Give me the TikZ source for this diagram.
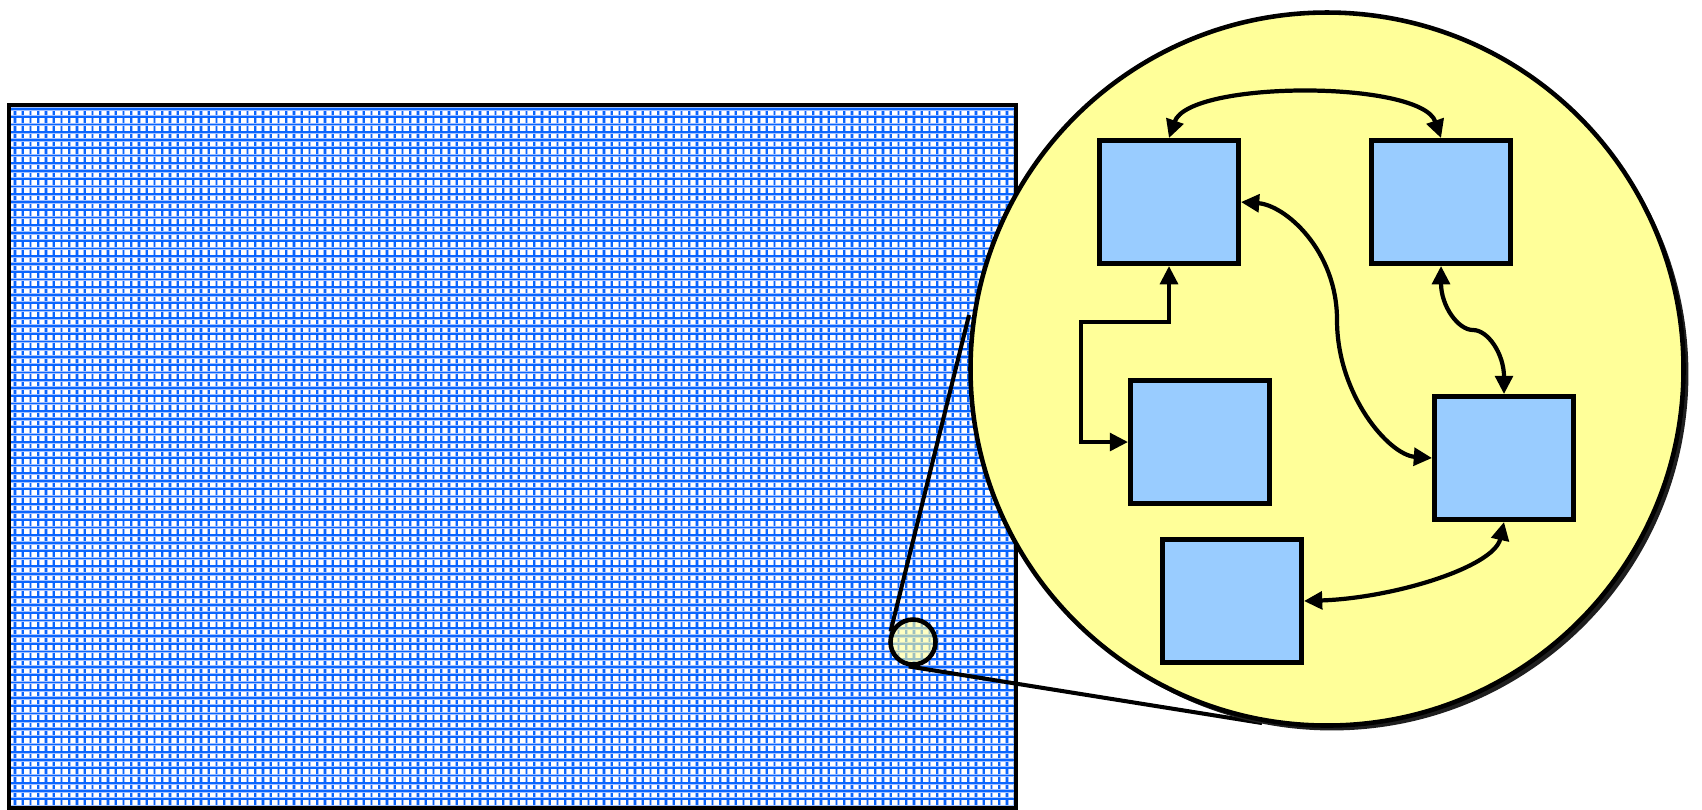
\documentclass[tikz,border=0pt]{standalone}
\usetikzlibrary{arrows.meta,shadows}
\definecolor{lensyellow}{HTML}{FFFF99}
\definecolor{boxblue}{HTML}{99CCFF}
\definecolor{gridblue}{HTML}{0A66FF}
\definecolor{gridhalo}{HTML}{A0C0FF}

\begin{document}
\begin{tikzpicture}[x = 0.1mm, y = -0.1mm,
  box/.style = {draw = black, line width = 1.4pt, fill = boxblue, minimum width = 13.9mm, minimum height = 12.3mm, inner sep = 0pt},
  link/.style = {line width = 1.2pt, {Triangle[length=5.2pt,width=5pt]}-{Triangle[length=5.2pt,width=5pt]}},
  lens/.style = {circle, draw = black, line width = 1.3pt, fill = lensyellow, inner sep = 0pt}]
\useasboundingbox (0,0) rectangle (1702,809);
\clip (0,0) rectangle (1702,809);
% the grid
\begin{scope}
\clip (9,105) rectangle (1016,808);
\foreach \i in {0,...,130} {
  \draw[color = gridhalo, line width = .95pt] (15+\i*7.75,105) -- (15+\i*7.75,809);
  \draw[color = gridblue, line width = .5pt] (15+\i*7.75,105) -- (15+\i*7.75,809);
}
\foreach \j in {0,...,91} {
  \draw[color = gridhalo, line width = .95pt] (9,109+\j*7.75) -- (1016,109+\j*7.75);
  \draw[color = gridblue, line width = .5pt] (9,109+\j*7.75) -- (1016,109+\j*7.75);
}
\end{scope}
\draw [black, line width = 1.2pt] (9,105) rectangle (1016,808);
% the spot and its lens
\node [lens, fill opacity = .6, minimum size = 4.5mm] (S) at (913,642) {};
\coordinate (T1) at (969,315);
\coordinate (T2) at (1262,723);
\draw [black, line width = 1.15pt] (S.155) -- (T1);
\draw [black, line width = 1.15pt] (S.260) -- (T2);
\node [lens, minimum size = 71.3mm, drop shadow = {shadow xshift = 1.4pt, shadow yshift = -1.4pt, fill = black!88, opacity = 1}] (Z) at (1327,369) {};
\node [box] (A) at (1169,202) {};
\node [box] (B) at (1441,202) {};
\node [box] (C) at (1200,442) {};
\node [box] (D) at (1504,458) {};
\node [box] (E) at (1232,601) {};
\draw [link] (A.north) .. controls +(20,-58) and +(-20,-58) .. (B.north);
\draw [link] (A.east) .. controls +(44,3) and +(0,-70) .. (1337,320) .. controls +(0,75) and +(-43,-3) .. (D.west);
\draw [link] (A.south) -- ++(0,56) -- ++(-88,0) |- (C.west);
\draw [link] (B.south) .. controls +(0,40) and +(-15,0) .. (1473,330) .. controls +(15,0) and +(0,-40) .. (D.north);
\draw [link] (E.east) .. controls +(90,-3) and +(-10,45) .. (D.south);
\end{tikzpicture}
\end{document}
